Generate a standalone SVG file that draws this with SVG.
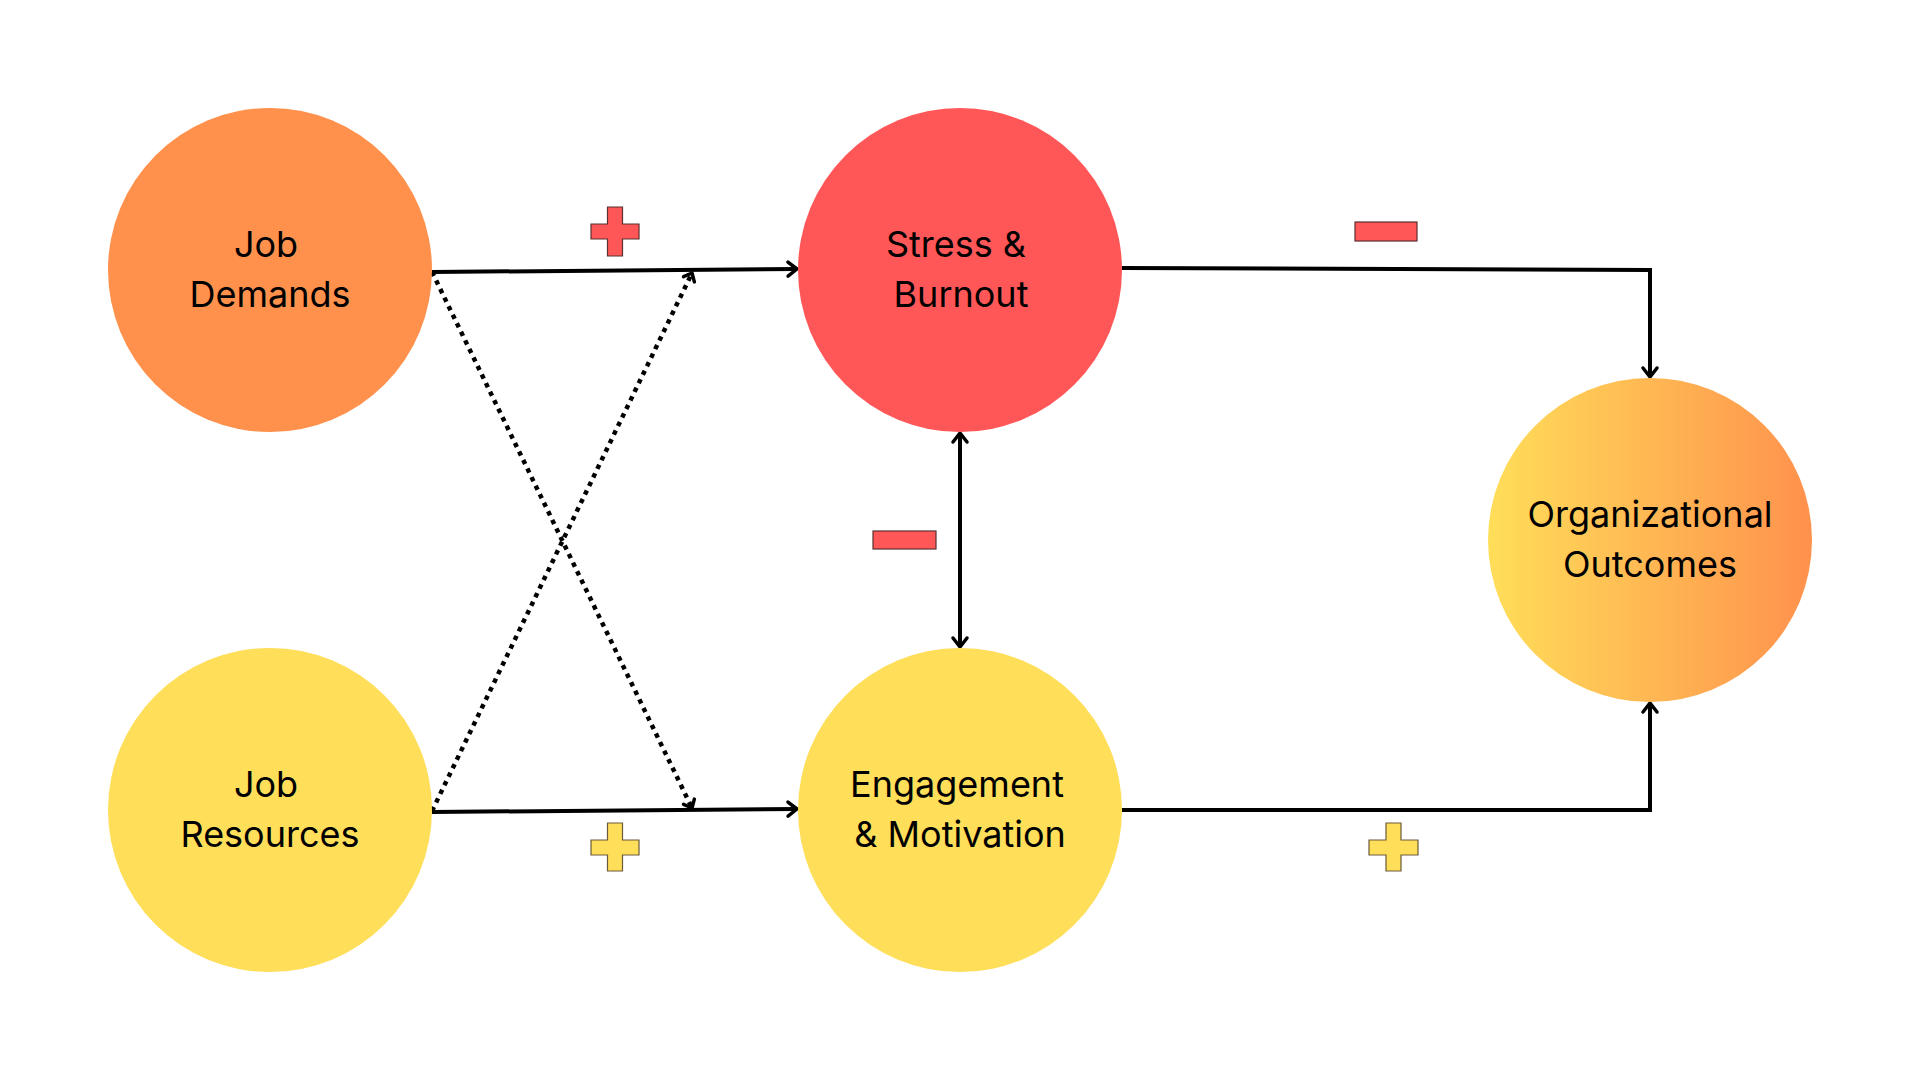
<svg xmlns="http://www.w3.org/2000/svg" width="1920" height="1080" viewBox="0 0 1920 1080">
  <defs>
    <linearGradient id="oo" x1="0" y1="0" x2="1" y2="0">
      <stop offset="0" stop-color="#FFDE59"/>
      <stop offset="1" stop-color="#FF914D"/>
    </linearGradient>
    <marker id="arr" markerWidth="16" markerHeight="20" refX="12" refY="9" orient="auto-start-reverse" markerUnits="userSpaceOnUse" overflow="visible">
      <path d="M3,2 L12,9 L3,16" fill="none" stroke="#000" stroke-width="3.5" stroke-linecap="round" stroke-linejoin="round"/>
    </marker>
    <marker id="arrs" markerWidth="14" markerHeight="16" refX="10" refY="7" orient="auto" markerUnits="userSpaceOnUse" overflow="visible">
      <path d="M3,1 L10,7 L3,13" fill="none" stroke="#000" stroke-width="3.5" stroke-linecap="round" stroke-linejoin="round"/>
    </marker>
    <style>
      .lbl { font-family: Inter, "Liberation Sans", sans-serif; font-size: 36px; fill: #000; text-anchor: middle; }
      .line { fill: none; stroke: #000; stroke-width: 4; }
      .dot { fill: none; stroke: #000; stroke-width: 4.5; stroke-dasharray: 4.5 5; }
      .red { fill: #FF5757; stroke: #5a3030; stroke-width: 1.2; }
      .yel { fill: #FFDE59; stroke: #6a5a3a; stroke-width: 1.2; }
    </style>
  </defs>
  <rect width="1920" height="1080" fill="#fff"/>

  <g id="connectors">
    <path class="line" d="M432,272 L797,269" marker-end="url(#arr)"/>
    <path class="line" d="M432,812 L797,809" marker-end="url(#arr)"/>
    <path class="line" d="M1122,268 L1650,270 L1650,377" marker-end="url(#arr)"/>
    <path class="line" d="M1122,810 L1650,810 L1650,703" marker-end="url(#arr)"/>
    <path class="line" d="M960,433 L960,647" marker-start="url(#arr)" marker-end="url(#arr)"/>
    <path class="dot" d="M432,272 L692,808" marker-end="url(#arrs)"/>
    <path class="dot" d="M432,811 L692,273" marker-end="url(#arrs)"/>
  </g>

  <g id="job-demands">
    <circle cx="270" cy="270" r="162" fill="#FF914D"/>
    <text class="lbl" x="266" y="257">Job</text>
    <text class="lbl" x="270" y="307">Demands</text>
  </g>
  <g id="job-resources">
    <circle cx="270" cy="810" r="162" fill="#FFDE59"/>
    <text class="lbl" x="266" y="797">Job</text>
    <text class="lbl" x="270" y="847">Resources</text>
  </g>
  <g id="stress-burnout">
    <circle cx="960" cy="270" r="162" fill="#FF5757"/>
    <text class="lbl" x="956" y="257">Stress &amp;</text>
    <text class="lbl" x="961" y="307">Burnout</text>
  </g>
  <g id="engagement-motivation">
    <circle cx="960" cy="810" r="162" fill="#FFDE59"/>
    <text class="lbl" x="957" y="797">Engagement</text>
    <text class="lbl" x="960" y="847">&amp; Motivation</text>
  </g>
  <g id="organizational-outcomes">
    <circle cx="1650" cy="540" r="162" fill="url(#oo)"/>
    <text class="lbl" x="1650" y="527">Organizational</text>
    <text class="lbl" x="1650" y="577">Outcomes</text>
  </g>

  <g id="signs">
    <polygon class="red" points="607.5,207 622.5,207 622.5,224 639,224 639,239 622.5,239 622.5,256 607.5,256 607.5,239 591,239 591,224 607.5,224"/>
    <polygon class="yel" points="607.5,823 622.5,823 622.5,840 639,840 639,855 622.5,855 622.5,871 607.5,871 607.5,855 591,855 591,840 607.5,840"/>
    <polygon class="yel" points="1386,823 1401,823 1401,840 1418,840 1418,855 1401,855 1401,871 1386,871 1386,855 1369,855 1369,840 1386,840"/>
    <rect class="red" x="1355" y="222" width="62" height="19"/>
    <rect class="red" x="873" y="531" width="63" height="18"/>
  </g>
</svg>
